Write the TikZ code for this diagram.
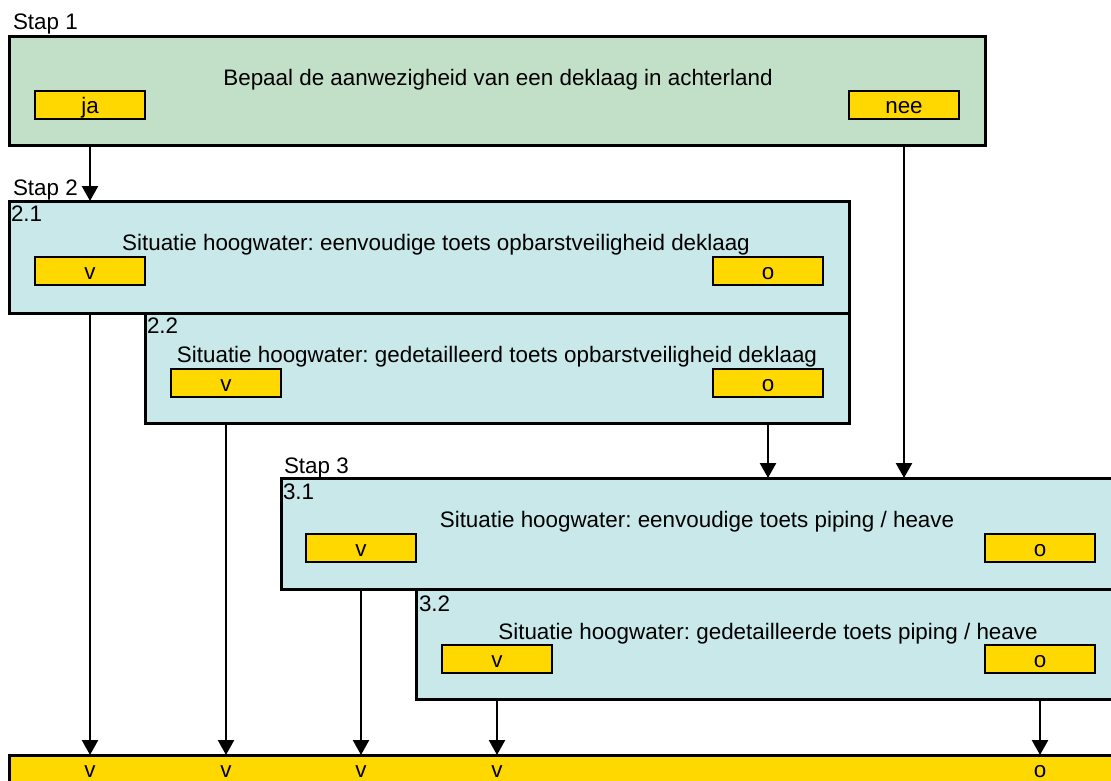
\documentclass[tikz,border=0pt]{standalone}
\usepackage{fontspec}
\setmainfont{Liberation Sans}
\frenchspacing
\usetikzlibrary{arrows.meta}
\definecolor{stepgreen}{HTML}{C2E0C8}
\definecolor{stepcyan}{HTML}{C8E8EA}
\definecolor{flagyellow}{HTML}{FFD800}
\begin{document}
\begin{tikzpicture}[x=1pt,y=-1pt,
  every node/.style={font=\fontsize{22.4}{27}\selectfont, inner sep=0pt, outer sep=0pt},
  panel/.style={draw=black, line width=3pt, anchor=north west},
  greenpanel/.style={panel, fill=stepgreen},
  cyanpanel/.style={panel, fill=stepcyan},
  flag/.style={draw=black, fill=flagyellow, line width=2.5pt, anchor=north west,
    minimum width=110pt, minimum height=28pt, text height=16pt, text depth=0pt},
  title/.style={anchor=base},
  tag/.style={anchor=base west},
  flow/.style={draw=black, line width=2.4pt, -{Triangle[width=16pt,length=15pt]}}
]
\useasboundingbox (0,0) rectangle (1111,780);
\clip (0,0) rectangle (1111,780);
\fill[white] (0,0) rectangle (1111,780);

% Stap 1
\node[tag] (stap1) at (13,29) {Stap 1};
\node[greenpanel, minimum width=976pt, minimum height=109pt] (s1) at (9,36) {};
\node[title] (t1) at (498,85) {Bepaal de aanwezigheid van een deklaag in achterland};
\node[flag] (ja) at (35,91) {ja};
\node[flag] (nee) at (849,91) {nee};

% Stap 2
\node[tag] (stap2) at (13,195) {Stap 2};
\node[cyanpanel, minimum width=840pt, minimum height=112pt] (s21) at (9,201) {};
\node[tag] (n21) at (11,221) {2.1};
\node[title] (t21) at (436,250) {Situatie hoogwater: eenvoudige toets opbarstveiligheid deklaag};
\node[flag] (v21) at (35,257) {v};
\node[flag] (o21) at (713,257) {o};

\node[cyanpanel, minimum width=704pt, minimum height=110pt] (s22) at (145,313) {};
\node[tag] (n22) at (147,333) {2.2};
\node[title] (t22) at (497,362) {Situatie hoogwater: gedetailleerd toets opbarstveiligheid deklaag};
\node[flag] (v22) at (171,369) {v};
\node[flag] (o22) at (713,369) {o};

% Stap 3
\node[tag] (stap3) at (284,473) {Stap 3};
\node[cyanpanel, minimum width=840pt, minimum height=111pt] (s31) at (281,478) {};
\node[tag] (n31) at (283,499) {3.1};
\node[title] (t31) at (697,527) {Situatie hoogwater: eenvoudige toets piping / heave};
\node[flag] (v31) at (306,534) {v};
\node[flag] (o31) at (985,534) {o};

\node[cyanpanel, minimum width=705pt, minimum height=110pt] (s32) at (416,589) {};
\node[tag] (n32) at (419,611) {3.2};
\node[title] (t32) at (768,639) {Situatie hoogwater: gedetailleerde toets piping / heave};
\node[flag] (v32) at (442,645) {v};
\node[flag] (o32) at (985,645) {o};

% Result bar
\node[panel, fill=flagyellow, minimum width=1115pt, minimum height=60pt] (bot) at (9,755) {};
\coordinate (botbase) at (0,777);
\node[title] (r1) at (v21 |- botbase) {v};
\node[title] (r2) at (v22 |- botbase) {v};
\node[title] (r3) at (v31 |- botbase) {v};
\node[title] (r4) at (v32 |- botbase) {v};
\node[title] (r5) at (o32 |- botbase) {o};

% Connectors
\draw[flow] (s1.south -| ja) -- (s21.north -| ja);
\draw[flow] (s1.south -| nee) -- (s31.north -| nee);
\draw[flow] (s21.south -| v21) -- (bot.north -| v21);
\draw[flow] (s22.south -| v22) -- (bot.north -| v22);
\draw[flow] (s22.south -| o22) -- (s31.north -| o22);
\draw[flow] (s31.south -| v31) -- (bot.north -| v31);
\draw[flow] (s32.south -| v32) -- (bot.north -| v32);
\draw[flow] (s32.south -| o32) -- (bot.north -| o32);
\end{tikzpicture}
\end{document}
